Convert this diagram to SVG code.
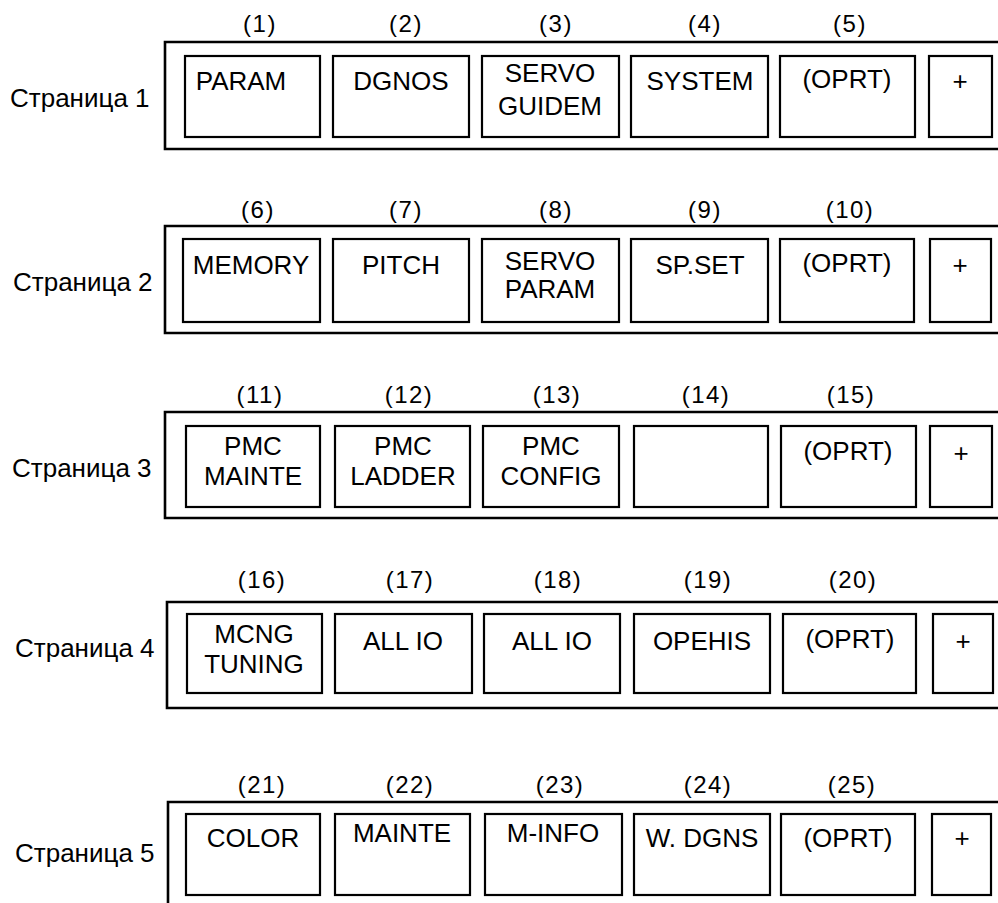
<svg xmlns="http://www.w3.org/2000/svg" width="998" height="903" viewBox="0 0 998 903">
<style>
text{font-family:"Liberation Sans",Arial,sans-serif;fill:#000}
.pg{font-size:26px}
.num{font-family:"Liberation Sans",Arial,sans-serif;font-size:24px;letter-spacing:1.5px;text-anchor:middle}
.k{font-size:26px;text-anchor:middle}
.frame{fill:none;stroke:#000;stroke-width:2.6}
.btn{fill:#fff;stroke:#000;stroke-width:2.2}
</style>
<rect width="998" height="903" fill="#fff"/>

<!-- Row 1 -->
<g id="page1">
<path class="frame" d="M1000,42 H165 V149 H1000"/>
<text class="pg" x="10" y="107">Страница 1</text>
<g id="b1"><rect class="btn" x="185" y="56" width="135" height="81"/><text class="num" x="260" y="32">(1)</text><text class="k" x="241" y="90">PARAM</text></g>
<g id="b2"><rect class="btn" x="333" y="56" width="136" height="81"/><text class="num" x="406" y="32">(2)</text><text class="k" x="401" y="90">DGNOS</text></g>
<g id="b3"><rect class="btn" x="482" y="56" width="137" height="81"/><text class="num" x="556" y="32">(3)</text><text class="k" x="550" y="82">SERVO</text><text class="k" x="550" y="115">GUIDEM</text></g>
<g id="b4"><rect class="btn" x="631" y="56" width="137" height="81"/><text class="num" x="705" y="32">(4)</text><text class="k" x="700" y="90">SYSTEM</text></g>
<g id="b5"><rect class="btn" x="780" y="56" width="135" height="81"/><text class="num" x="850" y="32">(5)</text><text class="k" x="847" y="88">(OPRT)</text></g>
<g id="b1p"><rect class="btn" x="929" y="56" width="63" height="81"/><text class="k" x="960" y="90">+</text></g>
</g>

<!-- Row 2 -->
<g id="page2">
<path class="frame" d="M1000,226 H165 V333 H1000"/>
<text class="pg" x="13" y="291">Страница 2</text>
<g id="b6"><rect class="btn" x="183" y="239" width="137" height="83"/><text class="num" x="258" y="218">(6)</text><text class="k" x="251" y="274">MEMORY</text></g>
<g id="b7"><rect class="btn" x="333" y="239" width="136" height="83"/><text class="num" x="406" y="218">(7)</text><text class="k" x="401" y="274">PITCH</text></g>
<g id="b8"><rect class="btn" x="482" y="239" width="137" height="83"/><text class="num" x="556" y="218">(8)</text><text class="k" x="550" y="270">SERVO</text><text class="k" x="550" y="298">PARAM</text></g>
<g id="b9"><rect class="btn" x="631" y="239" width="137" height="83"/><text class="num" x="705" y="218">(9)</text><text class="k" x="700" y="274">SP.SET</text></g>
<g id="b10"><rect class="btn" x="780" y="239" width="134" height="83"/><text class="num" x="850" y="218">(10)</text><text class="k" x="847" y="272">(OPRT)</text></g>
<g id="b2p"><rect class="btn" x="930" y="239" width="61" height="83"/><text class="k" x="960" y="274">+</text></g>
</g>

<!-- Row 3 -->
<g id="page3">
<path class="frame" d="M1000,412 H165 V518 H1000"/>
<text class="pg" x="12" y="477">Страница 3</text>
<g id="b11"><rect class="btn" x="186" y="426" width="134" height="81"/><text class="num" x="260" y="403">(11)</text><text class="k" x="253" y="455">PMC</text><text class="k" x="253" y="485">MAINTE</text></g>
<g id="b12"><rect class="btn" x="335" y="426" width="135" height="81"/><text class="num" x="409" y="403">(12)</text><text class="k" x="403" y="455">PMC</text><text class="k" x="403" y="485">LADDER</text></g>
<g id="b13"><rect class="btn" x="483" y="426" width="136" height="81"/><text class="num" x="557" y="403">(13)</text><text class="k" x="551" y="455">PMC</text><text class="k" x="551" y="485">CONFIG</text></g>
<g id="b14"><rect class="btn" x="634" y="426" width="134" height="81"/><text class="num" x="706" y="403">(14)</text></g>
<g id="b15"><rect class="btn" x="781" y="426" width="135" height="81"/><text class="num" x="851" y="403">(15)</text><text class="k" x="848" y="460">(OPRT)</text></g>
<g id="b3p"><rect class="btn" x="930" y="426" width="62" height="81"/><text class="k" x="961" y="462">+</text></g>
</g>

<!-- Row 4 -->
<g id="page4">
<path class="frame" d="M1000,602 H167 V708 H1000"/>
<text class="pg" x="15" y="657">Страница 4</text>
<g id="b16"><rect class="btn" x="187" y="614" width="135" height="79"/><text class="num" x="262" y="588">(16)</text><text class="k" x="254" y="643">MCNG</text><text class="k" x="254" y="673">TUNING</text></g>
<g id="b17"><rect class="btn" x="335" y="614" width="137" height="79"/><text class="num" x="410" y="588">(17)</text><text class="k" x="403" y="650">ALL IO</text></g>
<g id="b18"><rect class="btn" x="484" y="614" width="136" height="79"/><text class="num" x="558" y="588">(18)</text><text class="k" x="552" y="650">ALL IO</text></g>
<g id="b19"><rect class="btn" x="634" y="614" width="136" height="79"/><text class="num" x="708" y="588">(19)</text><text class="k" x="702" y="650">OPEHIS</text></g>
<g id="b20"><rect class="btn" x="783" y="614" width="133" height="79"/><text class="num" x="853" y="588">(20)</text><text class="k" x="850" y="648">(OPRT)</text></g>
<g id="b4p"><rect class="btn" x="933" y="614" width="60" height="79"/><text class="k" x="963" y="650">+</text></g>
</g>

<!-- Row 5 -->
<g id="page5">
<path class="frame" d="M1000,802 H168 V905"/>
<text class="pg" x="15" y="862">Страница 5</text>
<g id="b21"><rect class="btn" x="186" y="814" width="134" height="81"/><text class="num" x="262" y="793">(21)</text><text class="k" x="253" y="847">COLOR</text></g>
<g id="b22"><rect class="btn" x="335" y="814" width="135" height="81"/><text class="num" x="410" y="793">(22)</text><text class="k" x="402" y="842">MAINTE</text></g>
<g id="b23"><rect class="btn" x="485" y="814" width="137" height="81"/><text class="num" x="560" y="793">(23)</text><text class="k" x="553" y="842">M-INFO</text></g>
<g id="b24"><rect class="btn" x="634" y="814" width="136" height="81"/><text class="num" x="708" y="793">(24)</text><text class="k" x="702" y="847">W. DGNS</text></g>
<g id="b25"><rect class="btn" x="781" y="814" width="134" height="81"/><text class="num" x="852" y="793">(25)</text><text class="k" x="848" y="847">(OPRT)</text></g>
<g id="b5p"><rect class="btn" x="932" y="814" width="59" height="81"/><text class="k" x="962" y="847">+</text></g>
</g>
<g id="connectors"/>
</svg>
